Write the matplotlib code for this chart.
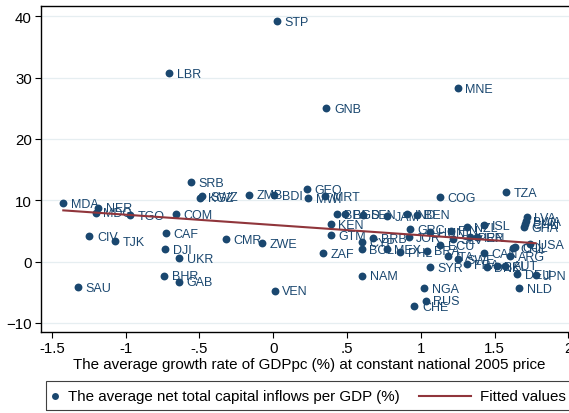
import matplotlib
matplotlib.use("Agg")
import matplotlib.pyplot as plt
from matplotlib.patches import Rectangle
from matplotlib.lines import Line2D

plt.rcParams['font.family'] = ['Liberation Sans', 'DejaVu Sans']

# country codes, growth of GDPpc (x) and net capital inflows per GDP (y)
countries = ["MDA", "NER", "MDG", "TGO", "COM", "CIV", "TJK", "CAF", "DJI", "UKR",
             "BHR", "GAB", "SAU", "SRB", "SWZ", "KGZ", "CMR", "ZWE", "ZMB", "BDI",
             "GEO", "MWI", "MRT", "STP", "LBR", "GNB", "MNE", "VEN", "KEN", "GTM",
             "ZAF", "NAM", "BFA", "BGD", "SEN", "JAM", "IND", "BEN", "BRB", "CYP",
             "BOL", "MEX", "PHL", "BRA", "SYR", "ECU", "COG", "TZA", "NGA", "RUS",
             "CHE", "NLD", "DEU", "JPN", "ARG", "CAN", "DNK", "BEL", "AUT", "ITA",
             "SWE", "FRA", "GRC", "JOR", "HUN", "FIN", "NZL", "ISL", "SLV", "PER",
             "IRN", "USA", "COL", "CHL", "LVA", "BWA", "CHN", "GHA"]
growth = [-1.422, -1.185, -1.203, -0.97, -0.658, -1.246, -1.072, -0.726, -0.733, -0.638,
          -0.738, -0.638, -1.322, -0.556, -0.48, -0.496, -0.322, -0.076, -0.162, 0.005,
          0.227, 0.238, 0.351, 0.026, -0.706, 0.36, 1.25, 0.01, 0.39, 0.39,
          0.34, 0.604, 0.43, 0.487, 0.61, 0.773, 0.909, 0.972, 0.678, 0.6,
          0.6, 0.77, 0.859, 1.04, 1.062, 1.13, 1.13, 1.577, 1.022, 1.033,
          0.956, 1.665, 1.654, 1.778, 1.604, 1.428, 1.446, 1.514, 1.57, 1.186,
          1.254, 1.31, 0.927, 0.917, 1.062, 1.203, 1.311, 1.428, 1.216, 1.333,
          1.378, 1.74, 1.636, 1.625, 1.717, 1.711, 1.706, 1.70]
inflows = [9.5, 8.8, 8.0, 7.6, 7.75, 4.1, 3.35, 4.6, 2.04, 0.5,
           -2.3, -3.3, -4.2, 12.9, 10.7, 10.4, 3.6, 3.0, 10.9, 10.85,
           11.8, 10.3, 10.7, 39.2, 30.7, 25.0, 28.3, -4.76, 6.1, 4.3,
           1.34, -2.3, 7.75, 7.75, 7.63, 7.37, 7.75, 7.63, 3.83, 3.13,
           2.04, 2.04, 1.5, 1.76, -0.95, 2.69, 10.47, 11.3, -4.37, -6.4,
           -7.3, -4.3, -2.04, -2.2, 0.85, 1.39, -0.95, -0.78, -0.68, 0.85,
           0.41, -0.4, 5.3, 3.95, 4.76, 5.03, 5.58, 5.95, 3.67, 3.95,
           3.95, 2.85, 2.36, 2.2, 7.2, 6.6, 6.1, 5.6]

# fitted values line (read at the ends of the data range)
fit_x = [-1.422, 1.778]
fit_y = [8.35, 2.99]

xticks = [-1.5, -1, -0.5, 0, 0.5, 1, 1.5, 2]
xticklabels = ["-1.5", "-1", "-.5", "0", ".5", "1", "1.5", "2"]
yticks = [-10, 0, 10, 20, 30, 40]

navy = "#1a476f"
maroon = "#90353b"

W, H = 569, 414
fig = plt.figure(figsize=(W / 100, H / 100), dpi=100)
ax = fig.add_axes([41 / W, 1 - 333 / H, 542 / W, 326 / H])

ax.scatter(growth, inflows, s=32, color=navy, zorder=3, linewidths=0)
for name, x, y in zip(countries, growth, inflows):
    ax.annotate(name, (x, y), xytext=(5.5, -0.5), textcoords="offset points",
                va="center", ha="left", fontsize=9, color=navy, zorder=4)
ax.plot(fit_x, fit_y, color=maroon, lw=1.5, zorder=5)

ax.set_xlim(-1.573, 2.099)
ax.set_ylim(-11.5, 41.7)
ax.set_xticks(xticks)
ax.set_xticklabels(xticklabels)
ax.set_yticks(yticks)
ax.tick_params(axis="both", labelsize=10.8, length=4, width=0.8, pad=2.5, colors="black")
ax.yaxis.grid(True, color="#e6eef1", lw=0.9)
ax.set_axisbelow(True)
for sp in ax.spines.values():
    sp.set_linewidth(1.0)
    sp.set_color("black")

fig.text(309.5 / W, 1 - 365 / H, "The average growth rate of GDPpc (%) at constant national 2005 price",
         ha="center", va="center", fontsize=10.9)

# legend box below the plot
fig.patches.append(Rectangle((46 / W, 1 - 411 / H), 560 / W, 29 / H, transform=fig.transFigure,
                             fill=False, edgecolor="#404040", lw=0.8))
fig.lines.append(Line2D([55 / W], [1 - 396.5 / H], transform=fig.transFigure, marker="o",
                        markersize=5, color=navy, markeredgewidth=0))
fig.text(68 / W, 1 - 397 / H, "The average net total capital inflows per GDP (%)",
         ha="left", va="center", fontsize=10.9)
fig.lines.append(Line2D([419 / W, 471 / W], [1 - 396.5 / H, 1 - 396.5 / H],
                        transform=fig.transFigure, color=maroon, lw=1.5))
fig.text(480 / W, 1 - 397 / H, "Fitted values", ha="left", va="center", fontsize=10.9)

fig.savefig("out.png", dpi=100)
